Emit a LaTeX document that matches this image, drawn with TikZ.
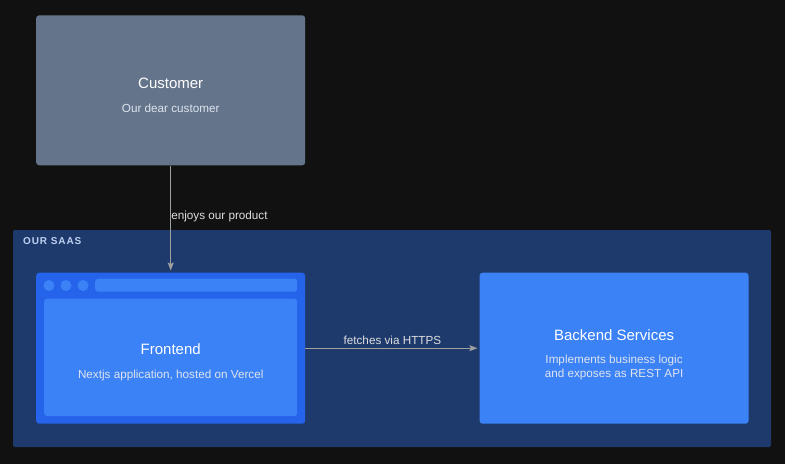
\documentclass[tikz,border=0pt]{standalone}
\usepackage{fontspec}
\setmainfont{Liberation Sans}
\usetikzlibrary{arrows.meta, positioning}

\definecolor{canvas}{RGB}{17,17,17}
\definecolor{slate}{RGB}{100,116,139}
\definecolor{saasblue}{RGB}{30,58,108}
\definecolor{deepblue}{RGB}{37,99,235}
\definecolor{lightblue}{RGB}{59,130,246}
\definecolor{wire}{RGB}{160,160,160}
\definecolor{wiretext}{RGB}{222,222,222}
\definecolor{grouptext}{RGB}{191,208,240}
\definecolor{subtext}{RGB}{222,228,238}

\begin{document}
\begin{tikzpicture}
        [x=1pt, y=-1pt, node distance=20pt,
        box/.style={rectangle, rounded corners=3pt, inner sep=0pt, minimum width=269pt, minimum height=151pt},
        title/.style={inner sep=0pt, text=white, font=\fontsize{15}{18}\selectfont},
        subtitle/.style={inner sep=0pt, align=center, text=subtext, font=\fontsize{11.7}{14}\selectfont},
        flow/.style={->, >={Stealth[length=8pt, width=6pt, inset=1.5pt]}, draw=wire, line width=1.2pt, shorten >=2pt},
        flowlabel/.style={inner sep=0pt, text=wiretext, font=\fontsize{11.7}{13}\selectfont},
        dot/.style={circle, fill=lightblue, inner sep=0pt, minimum size=11pt}]
        \useasboundingbox[fill=canvas] (0,0) rectangle (785,464);

        % system boundary
        \node[rectangle, rounded corners=2pt, fill=saasblue, minimum width=758pt, minimum height=217pt] (saas) at (392,338.5) {};
        \node[anchor=west, inner sep=0pt, text=grouptext, font=\fontsize{10}{11}\selectfont\bfseries\addfontfeatures{LetterSpace=9}] (saaslabel) at (23,241.5) {OUR SAAS};

        % people
        \node[box, fill=slate, minimum height=150pt] (customer) at (170.7,90.3) {};
        \node[title] (customerT) at ([yshift=7pt]customer.center) {Customer};
        \node[subtitle] (customerS) at ([yshift=-18pt]customer.center) {Our dear customer};

        % containers
        \node[box, fill=deepblue]  (frontend)   [below = 107pt of customer] {};
        \node[box, fill=lightblue] (backend)    [right = 174pt of frontend] {};

        \foreach \i in {0,1,2}
            \node[dot] (tab\i) at ([shift={(13pt+\i*17pt,-13pt)}]frontend.north west) {};
        \node[rectangle, rounded corners=3pt, fill=lightblue, inner sep=0pt, minimum width=202pt, minimum height=13pt, anchor=north west]
            (urlbar) at ([shift={(59pt,-6pt)}]frontend.north west) {};
        \node[rectangle, rounded corners=3pt, fill=lightblue, inner sep=0pt, minimum width=253pt, minimum height=117.5pt, anchor=north west]
            (panel) at ([shift={(8pt,-26pt)}]frontend.north west) {};

        \node[title] (frontendT) at ([yshift=8.7pt]panel.center) {Frontend};
        \node[subtitle] (frontendS) at ([yshift=-18pt]panel.center) {Nextjs application, hosted on Vercel};

        \node[title] (backendT) at ([yshift=13.5pt]backend.center) {Backend Services};
        \node[subtitle] (backendS) at ([yshift=-19.5pt]backend.center) {Implements business logic\\and exposes as REST API};

        \draw[flow] (customer) -- node[flowlabel, pos=0.48, anchor=west] (enjoys) {enjoys our product} (frontend);
        \draw[flow] (frontend) -- node[flowlabel, yshift=8pt] (fetches) {fetches via HTTPS} (backend);
\end{tikzpicture}
\end{document}
